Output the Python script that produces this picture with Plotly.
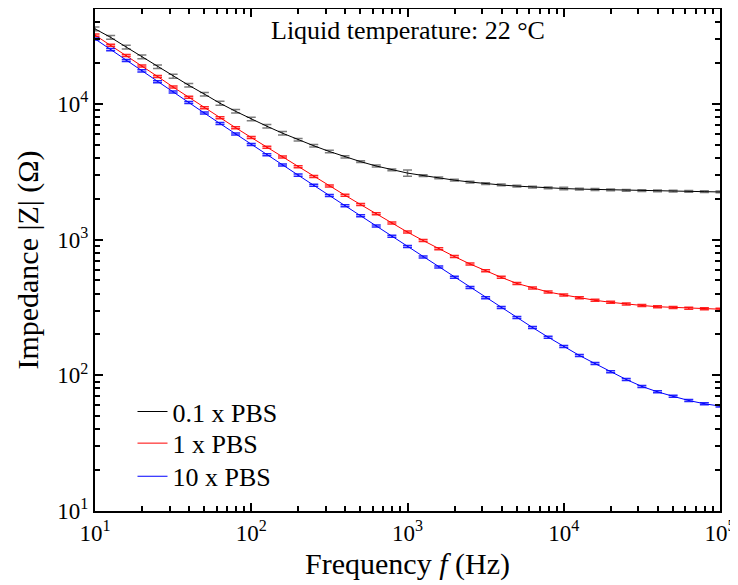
import plotly.graph_objects as go

freq = [10, 12.59, 15.85, 19.95, 25.12, 31.62, 39.81, 50.12, 63.1, 79.43,
        100, 125.9, 158.5, 199.5, 251.2, 316.2, 398.1, 501.2, 631, 794.3,
        1000, 1259, 1585, 1995, 2512, 3162, 3981, 5012, 6310, 7943,
        10000, 12590, 15850, 19950, 25120, 31620, 39810, 50120, 63100, 79430,
        100000]

z_01pbs = [35700, 30900, 26200, 22200, 18800, 16000, 13700, 11800, 10100, 8810,
           7730, 6840, 6080, 5445, 4910, 4457, 4074, 3750, 3483, 3266,
           3090, 2965, 2845, 2740, 2655, 2580, 2525, 2477, 2438, 2404,
           2377, 2355, 2339, 2323, 2307, 2296, 2286, 2275, 2265, 2254,
           2244]
err_01pbs = [1070, 930, 790, 670, 560, 560, 410, 350, 350, 260,
             230, 200, 180, 110, 100, 90, 80, 60, 55, 50,
             160, 45, 43, 41, 40, 39, 38, 37, 37, 36,
             50, 35, 35, 35, 35, 35, 34, 34, 34, 34,
             34]

z_1pbs = [32100, 27000, 22700, 19050, 15920, 13300, 11170, 9380, 7890, 6670,
          5650, 4790, 4060, 3440, 2920, 2480, 2120, 1811, 1549, 1324,
          1135, 984, 857, 750, 661, 589, 527, 475, 439, 411,
          391, 372, 357, 345, 335, 327, 320, 316, 312, 309,
          307]
err_1pbs = [550, 460, 385, 325, 270, 225, 190, 160, 135, 113,
            96, 81, 69, 58, 50, 42, 36, 31, 26, 22.5,
            19.3, 16.7, 14.6, 12.8, 11.2, 10, 9, 8.1, 7.5, 7,
            6.6, 6.3, 6.1, 5.9, 5.7, 5.6, 5.4, 5.4, 5.3, 5.3,
            5.2]

z_10pbs = [30100, 25100, 20900, 17500, 14550, 12220, 10230, 8550, 7160, 6000,
           5010, 4220, 3550, 2985, 2510, 2113, 1778, 1496, 1259, 1059,
           891, 745, 628, 527, 444, 373, 316, 267, 225, 191,
           163, 140, 122, 106, 93.1, 82.8, 75.5, 70.0, 65.2, 61.7,
           59.3]
err_10pbs = [510, 430, 355, 300, 250, 210, 175, 145, 122, 102,
             85, 72, 60, 51, 43, 36, 30, 25, 21, 18,
             15, 12.7, 10.7, 9, 7.5, 6.3, 5.4, 4.5, 3.8, 3.2,
             2.8, 2.4, 2.1, 1.8, 1.6, 1.4, 1.3, 1.2, 1.1, 1.05,
             1.0]

x_tickvals = [10, 100, 1000, 10000, 100000]
x_ticktext = ["10<sup>1</sup>", "10<sup>2</sup>", "10<sup>3</sup>", "10<sup>4</sup>", "10<sup>5</sup>"]
y_tickvals = [10, 100, 1000, 10000]
y_ticktext = ["10<sup>1</sup>", "10<sup>2</sup>", "10<sup>3</sup>", "10<sup>4</sup>"]

series = [
    ("0.1 x PBS", z_01pbs, err_01pbs, "#000000", "rgba(70,70,70,0.7)", "legend"),
    ("1 x PBS", z_1pbs, err_1pbs, "#ff0000", "rgba(255,0,0,0.85)", "legend2"),
    ("10 x PBS", z_10pbs, err_10pbs, "#0000ff", "rgba(0,0,255,0.85)", "legend3"),
]

FONT = "Liberation Serif, Times New Roman, serif"

def minor_vals(lo, hi):
    vals = []
    for d in range(lo, hi):
        for m in range(2, 10):
            vals.append(m * 10 ** d)
    return vals

fig = go.Figure()
for name, z, e, col, ecol, leg in series:
    fig.add_trace(go.Scatter(
        x=freq, y=z, name=name, mode="lines", legend=leg,
        line=dict(color=col, width=1),
        error_y=dict(type="data", array=e, visible=True, color=ecol,
                     thickness=1.5, width=4.5),
    ))

axis_common = dict(
    type="log", showline=True, linecolor="black", linewidth=2,
    mirror="ticks", ticks="inside", ticklen=8, tickwidth=1.5, tickcolor="black",
    showgrid=False, zeroline=False, tickmode="array", automargin=False,
    tickfont=dict(family=FONT, size=23, color="black"),
)

fig.update_xaxes(**axis_common, range=[1, 5], tickvals=x_tickvals, ticktext=x_ticktext,
                 minor=dict(ticks="inside", ticklen=5, tickwidth=1.5, tickcolor="black",
                            showgrid=False, tickmode="array", tickvals=minor_vals(1, 5)),
                 title=dict(text="Frequency <i>f</i> (Hz)", font=dict(family=FONT, size=30, color="black"), standoff=8))
fig.update_yaxes(**axis_common, range=[1, 4.69897], tickvals=y_tickvals, ticktext=y_ticktext,
                 minor=dict(ticks="inside", ticklen=5, tickwidth=1.5, tickcolor="black",
                            showgrid=False, tickmode="array", tickvals=minor_vals(1, 5)),
                 title=dict(text="Impedance |Z| (Ω)", font=dict(family=FONT, size=30, color="black"), standoff=10))

fig.add_annotation(text="Liquid temperature: 22 °C", xref="paper", yref="paper",
                   x=0.5, y=0.958, showarrow=False, xanchor="center", yanchor="middle",
                   font=dict(family=FONT, size=26, color="black"))

leg_common = dict(xanchor="left", yanchor="middle", bgcolor="rgba(0,0,0,0)", borderwidth=0,
                  font=dict(family=FONT, size=26, color="black"))

fig.update_layout(
    width=738, height=585,
    margin=dict(l=87, r=26, t=1, b=82),
    paper_bgcolor="white", plot_bgcolor="white",
    font=dict(family=FONT, color="black"),
    legend=dict(x=0.06, y=0.198, **leg_common),
    legend2=dict(x=0.06, y=0.135, **leg_common),
    legend3=dict(x=0.06, y=0.069, **leg_common),
    showlegend=True,
)

fig.write_html("out.html")
